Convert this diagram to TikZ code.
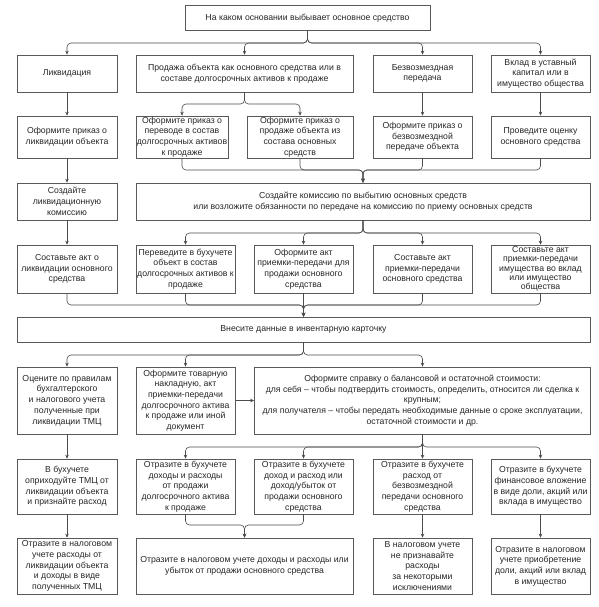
\documentclass[tikz,border=0pt]{standalone}
\usepackage{fontspec}
\setmainfont{Liberation Sans}
\usetikzlibrary{arrows.meta}

\begin{document}
\begin{tikzpicture}[x=1pt,y=-1pt,
    box/.style={draw=black!65, line width=0.6pt, align=center, inner sep=0.5pt,
        text=black!85, font=\fontsize{8.7}{10.7}\selectfont},
    link/.style={draw=black!70, line width=0.6pt, rounded corners=4pt,
        -{Stealth[length=4pt,width=3.5pt]}}]

    \useasboundingbox (0,0) rectangle (598,607);

    \node[box, minimum width=245, minimum height=25] (top) at (307.5,18)
        {На каком основании выбывает основное средство};

    \node[box, minimum width=100, minimum height=37] (liq) at (67,73.5) {Ликвидация};
    \node[box, minimum width=217, minimum height=37] (sale) at (244.5,73.5)
        {Продажа объекта как основного средства или в\\составе долгосрочных активов к продаже};
    \node[box, minimum width=99, minimum height=37] (gift) at (422.5,73.5)
        {Безвозмездная\\передача};
    \node[box, minimum width=99, minimum height=37] (contrib) at (540.5,73.5)
        {Вклад в уставный\\капитал или в\\имущество общества};

    \node[box, minimum width=100, minimum height=42] (ordliq) at (67,137)
        {Оформите приказ о\\ликвидации объекта};
    \node[box, minimum width=92, minimum height=42] (ordmove) at (182,137)
        {Оформите приказ о\\переводе в состав\\долгосрочных активов\\к продаже};
    \node[box, minimum width=106, minimum height=42] (ordsale) at (300,137)
        {Оформите приказ о\\продаже объекта из\\состава основных\\средств};
    \node[box, minimum width=99, minimum height=42] (ordgift) at (422.5,137)
        {Оформите приказ о\\безвозмездной\\передаче объекта};
    \node[box, minimum width=99, minimum height=42] (assess) at (540.5,137)
        {Проведите оценку\\основного средства};

    \node[box, minimum width=100, minimum height=37] (liqcom) at (67,201.5)
        {Создайте\\ликвидационную\\комиссию};
    \node[box, minimum width=454, minimum height=37] (com) at (363,201.5)
        {Создайте комиссию по выбытию основных средств\\или возложите обязанности по передаче на комиссию по приему основных средств};

    \node[box, minimum width=100, minimum height=48] (actliq) at (67,269)
        {Составьте акт о\\ликвидации основного\\средства};
    \node[box, minimum width=99, minimum height=48] (actmove) at (185.5,269)
        {Переведите в бухучете\\объект в состав\\долгосрочных активов к\\продаже};
    \node[box, minimum width=99, minimum height=48] (actsale) at (303.5,269)
        {Оформите акт\\приемки-передачи для\\продажи основного\\средства};
    \node[box, minimum width=99, minimum height=48] (actgift) at (422.5,269)
        {Составьте акт\\приемки-передачи\\основного средства};
    \node[box, minimum width=99, minimum height=48, font=\fontsize{8.7}{9.3}\selectfont] (actcontrib) at (540.5,269)
        {Составьте акт\\приемки-передачи\\имущества во вклад\\или имущество\\общества};

    \node[box, minimum width=573, minimum height=25] (card) at (303.5,329.5)
        {Внесите данные в инвентарную карточку};

    \node[box, minimum width=100, minimum height=67] (estim) at (67,400.5)
        {Оцените по правилам\\бухгалтерского\\и налогового учета\\полученные при\\ликвидации ТМЦ};
    \node[box, minimum width=99, minimum height=67] (invoice) at (185.5,400.5)
        {Оформите товарную\\накладную, акт\\приемки-передачи\\долгосрочного актива\\к продаже или иной\\документ};
    \node[box, minimum width=336, minimum height=67] (ref) at (422.5,400.5)
        {Оформите справку о балансовой и остаточной стоимости:\\
         для себя – чтобы подтвердить стоимость, определить, относится ли сделка к\\крупным;\\
         для получателя – чтобы передать необходимые данные о сроке эксплуатации,\\остаточной стоимости и др.};

    \node[box, minimum width=100, minimum height=55] (accliq) at (67,486.5)
        {В бухучете\\оприходуйте ТМЦ от\\ликвидации объекта\\и признайте расход};
    \node[box, minimum width=99, minimum height=55] (accmove) at (185.5,486.5)
        {Отразите в бухучете\\доходы и расходы\\от продажи\\долгосрочного актива\\к продаже};
    \node[box, minimum width=99, minimum height=55] (accsale) at (303.5,486.5)
        {Отразите в бухучете\\доход и расход или\\доход/убыток от\\продажи основного\\средства};
    \node[box, minimum width=99, minimum height=55] (accgift) at (422.5,486.5)
        {Отразите в бухучете\\расход от\\безвозмездной\\передачи основного\\средства};
    \node[box, minimum width=99, minimum height=55] (acccontrib) at (540.5,486.5)
        {Отразите в бухучете\\финансовое вложение\\в виде доли, акций или\\вклада в имущество};

    \node[box, minimum width=100, minimum height=56] (taxliq) at (67,566)
        {Отразите в налоговом\\учете расходы от\\ликвидации объекта\\и доходы в виде\\полученных ТМЦ};
    \node[box, minimum width=217, minimum height=56] (taxsale) at (244.5,566)
        {Отразите в налоговом учете доходы и расходы или\\убыток от продажи основного средства};
    \node[box, minimum width=99, minimum height=56] (taxgift) at (422.5,566)
        {В налоговом учете\\не признавайте\\расходы\\за некоторыми\\исключениями};
    \node[box, minimum width=99, minimum height=56] (taxcontrib) at (540.5,566)
        {Отразите в налоговом\\учете приобретение\\доли, акций или вклад\\в имущество};

    \coordinate (j0) at (307.5,43);
    \coordinate (j1) at (244.5,104);
    \coordinate (j2) at (363,170);
    \coordinate (j3) at (363,233);
    \coordinate (j4) at (303.5,305);
    \coordinate (j5) at (303.5,355);
    \coordinate (j6) at (422.5,447);
    \coordinate (j7) at (244.5,525);

    \foreach \t in {liq,sale,gift,contrib}
        \draw[link] (top.south) -- (j0) -| (\t.north);

    \foreach \s/\t in {liq/ordliq,gift/ordgift,contrib/assess,ordliq/liqcom,liqcom/actliq,
                       estim/accliq,accliq/taxliq,accgift/taxgift,acccontrib/taxcontrib}
        \draw[link] (\s.south) -- (\t.north);

    \foreach \t in {ordmove,ordsale}
        \draw[link] (sale.south) -- (j1) -| (\t.north);

    \foreach \s in {ordmove,ordsale,ordgift,assess}
        \draw[link] (\s.south) |- (j2) -- (com.north);

    \foreach \t in {actmove,actsale,actgift,actcontrib}
        \draw[link] (com.south) -- (j3) -| (\t.north);

    \foreach \s in {actliq,actmove,actsale,actgift,actcontrib}
        \draw[link] (\s.south) |- (j4) -- (card.north);

    \foreach \t in {estim,invoice,ref}
        \draw[link] (card.south) -- (j5) -| (\t.north);

    \draw[link] (invoice.east) -- (ref.west);

    \foreach \t in {accmove,accsale,accgift,acccontrib}
        \draw[link] (ref.south) -- (j6) -| (\t.north);

    \foreach \s in {accmove,accsale}
        \draw[link] (\s.south) |- (j7) -- (taxsale.north);

\end{tikzpicture}
\end{document}
